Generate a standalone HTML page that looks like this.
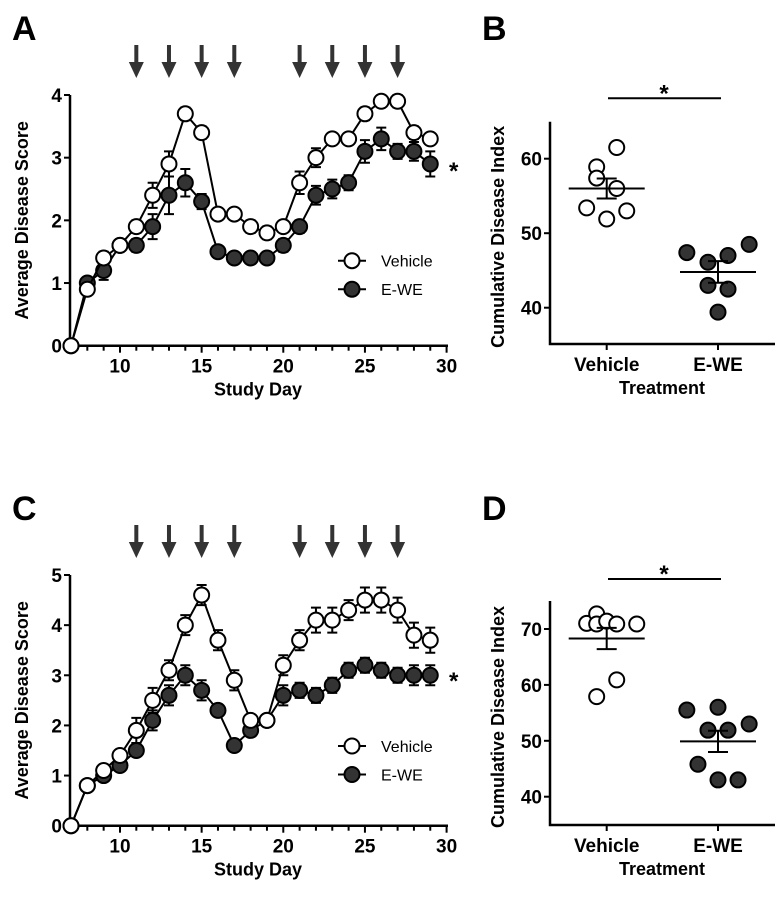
<!DOCTYPE html>
<html><head><meta charset="utf-8"><style>
body{margin:0;background:#fff}
svg text{font-family:"Liberation Sans",Arial,sans-serif;font-weight:bold;fill:#000}
</style></head><body>
<svg id="fig" width="780" height="900" viewBox="0 0 780 900" xmlns="http://www.w3.org/2000/svg"></svg>
<script>
const days=[7,8,9,10,11,12,13,14,15,16,17,18,19,20,21,22,23,24,25,26,27,28,29];
const aVehicle=[0,0.9,1.4,1.6,1.9,2.4,2.9,3.7,3.4,2.1,2.1,1.9,1.8,1.9,2.6,3.0,3.3,3.3,3.7,3.9,3.9,3.4,3.3];
const aVehicleErr=[0,0.05,0.1,0.08,0.1,0.2,0.2,0.1,0.1,0.08,0.08,0.1,0.1,0.08,0.18,0.15,0.08,0.08,0.1,0.08,0.1,0.1,0.08];
const aEWE=[0,1.0,1.2,1.6,1.6,1.9,2.4,2.6,2.3,1.5,1.4,1.4,1.4,1.6,1.9,2.4,2.5,2.6,3.1,3.3,3.1,3.1,2.9];
const aEWEErr=[0,0.08,0.15,0.08,0.1,0.2,0.3,0.22,0.12,0.08,0.08,0.08,0.08,0.1,0.1,0.15,0.15,0.12,0.18,0.18,0.12,0.15,0.2];
const cVehicle=[0,0.8,1.1,1.4,1.9,2.5,3.1,4.0,4.6,3.7,2.9,2.1,2.1,3.2,3.7,4.1,4.1,4.3,4.5,4.5,4.3,3.8,3.7];
const cVehicleErr=[0,0.05,0.1,0.1,0.25,0.25,0.2,0.2,0.2,0.2,0.2,0.1,0.1,0.2,0.2,0.25,0.25,0.2,0.25,0.25,0.25,0.25,0.25];
const cEWE=[0,0.8,1.0,1.2,1.5,2.1,2.6,3.0,2.7,2.3,1.6,1.9,2.1,2.6,2.7,2.6,2.8,3.1,3.2,3.1,3.0,3.0,3.0];
const cEWEErr=[0,0.05,0.1,0.1,0.1,0.2,0.2,0.2,0.2,0.1,0.1,0.1,0.1,0.2,0.15,0.15,0.15,0.15,0.15,0.15,0.15,0.2,0.2];
const arrowDays=[11,13,15,17,21,23,25,27];
const xTicks=[10,15,20,25,30];
const groups=["Vehicle","E-WE"];
const bVehicle=[61.5,58.9,57.4,56.0,53.4,53.0,51.9];
const bEWE=[47.4,46.1,47.0,48.5,43.0,42.5,39.4];
const bMean=[56.0,44.8];const bSem=[1.35,1.45];
const dVehicle=[71.0,72.7,70.9,71.4,70.9,70.9,57.9,60.9];
const dEWE=[55.5,56.0,51.9,51.9,53.0,45.8,43.0,43.0];
const dMean=[68.3,49.9];const dSem=[1.9,1.9];
const bJitter=[[0.09,-0.09,-0.09,0.09,-0.18,0.18,0],[-0.28,-0.09,0.09,0.28,-0.09,0.09,0]];
const dJitter=[[-0.18,-0.09,-0.09,0,0.09,0.27,-0.09,0.09],[-0.28,0,-0.09,0.09,0.28,-0.18,0,0.18]];

const svg=document.getElementById('fig');const NS='http://www.w3.org/2000/svg';
function mk(tag,attrs,parent,text){const e=document.createElementNS(NS,tag);for(const k in attrs)e.setAttribute(k,attrs[k]);if(text!==undefined)e.textContent=text;(parent||svg).appendChild(e);return e;}

function linePanel(id,letter,top,yMax,y0,yTop,vals1,err1,vals2,err2,legY,starY){
  const g=mk('g',{});
  
  
  const xs=d=>71+(d-7)*16.33;
  const ys=v=>y0-(y0-yTop)*v/yMax;
  const lab=mk('text',{x:12,y:top+40,'font-size':34},g,letter);
  
  arrowDays.forEach(d=>{const x=xs(d);const a=mk('path',{d:`M${x-2},${top+45}h4v17h5.5l-7.5,16l-7.5,-16h5.5z`,fill:'#333'},g);
    });
  const ax=mk('path',{d:`M70,${yTop}V${y0}H448`,stroke:'#000','stroke-width':2.5,fill:'none'},g);
  
  for(let v=0;v<=yMax;v++){mk('line',{x1:64,x2:70,y1:ys(v),y2:ys(v),stroke:'#000','stroke-width':2},g);
    const t=mk('text',{x:62,y:ys(v)+7,'font-size':19,'text-anchor':'end'},g,v);}
  for(let d=8;d<=30;d++){const maj=xTicks.includes(d);mk('line',{x1:xs(d),x2:xs(d),y1:y0,y2:y0+(maj?7:5),stroke:'#000','stroke-width':2},g);}
  xTicks.forEach(d=>{const t=mk('text',{x:xs(d),y:y0+27,'font-size':19,'text-anchor':'middle'},g,d);});
  const xt=mk('text',{x:258,y:y0+29+21,'font-size':18,'text-anchor':'middle'},g,'Study Day');
  const yt=mk('text',{x:0,y:0,'font-size':18,'text-anchor':'middle',transform:`translate(28,${(y0+yTop)/2}) rotate(-90)`},g,'Average Disease Score');
  [[vals2,err2,'#333','e-we'],[vals1,err1,'#fff','vehicle']].forEach(([vals,errs,fill,nm])=>{
    const s=mk('g',{},g);
    mk('polyline',{points:days.map((d,i)=>xs(d)+','+ys(vals[i])).join(' '),fill:'none',stroke:'#000','stroke-width':2},s);
    days.forEach((d,i)=>{const x=xs(d);if(errs[i]>0){const hi=ys(vals[i]+errs[i]),lo=ys(vals[i]-errs[i]);
      mk('path',{d:`M${x},${lo}V${hi}M${x-5},${hi}h10M${x-5},${lo}h10`,stroke:'#000','stroke-width':2},s);}
      const c=mk('circle',{cx:x,cy:ys(vals[i]),r:7.5,fill:fill,stroke:'#000','stroke-width':2},s);
      });
  });
  [['Vehicle','#fff',legY],['E-WE','#333',legY+28.5]].forEach(([t,f,y])=>{
    const l=mk('g',{},g);
    mk('line',{x1:338,x2:366,y1:y,y2:y,stroke:'#000','stroke-width':2},l);
    mk('circle',{cx:352,cy:y,r:7.5,fill:f,stroke:'#000','stroke-width':2},l);
    const tx=mk('text',{x:381,y:y+6,'font-size':16},l,t);tx.style.fontWeight='normal';});
  const st=mk('text',{x:449,y:starY+12,'font-size':24},g,'*');
}
linePanel('a','A',0,4,345.7,95,aVehicle,aVehicleErr,aEWE,aEWEErr,260.7,167);
linePanel('c','C',480,5,825.7,575,cVehicle,cVehicleErr,cEWE,cEWEErr,746,677);

function dotPanel(letter,top,vMin,vMax,ticks,yAt,perTen,y0,yTop,sets,jit,means,sems,sigY){
  const g=mk('g',{});
  
  
  const ys=v=>yAt-(v-ticks[0])*perTen/10;
  const xs=[606.7,718];
  const lab=mk('text',{x:482,y:top+40,'font-size':34},g,letter);
  const ax=mk('path',{d:`M550,${yTop}V${y0}H775`,stroke:'#000','stroke-width':2.5,fill:'none'},g);
  ticks.forEach(v=>{mk('line',{x1:544,x2:550,y1:ys(v),y2:ys(v),stroke:'#000','stroke-width':2},g);
    const t=mk('text',{x:542,y:ys(v)+7,'font-size':19,'text-anchor':'end'},g,v);});
  groups.forEach((n,i)=>{mk('line',{x1:xs[i],x2:xs[i],y1:y0,y2:y0+6,stroke:'#000','stroke-width':2},g);
    const t=mk('text',{x:xs[i],y:y0+27,'font-size':19,'text-anchor':'middle'},g,n);});
  const xt=mk('text',{x:662,y:y0+50,'font-size':18,'text-anchor':'middle'},g,'Treatment');
  const yt=mk('text',{x:0,y:0,'font-size':18,'text-anchor':'middle',transform:`translate(504,${(y0+yTop)/2+4}) rotate(-90)`},g,'Cumulative Disease Index');
  sets.forEach((vals,i)=>{const fill=i?'#333':'#fff';
    vals.forEach((v,j)=>{const c=mk('circle',{cx:xs[i]+jit[i][j]*111.3,cy:ys(v),r:7.5,fill:fill,stroke:'#000','stroke-width':2},g);
      });
    const m=ys(means[i]),hi=ys(means[i]+sems[i]),lo=ys(means[i]-sems[i]);
    const mb=mk('path',{d:`M${xs[i]-38},${m}h76M${xs[i]},${hi}V${lo}M${xs[i]-10},${hi}h20M${xs[i]-10},${lo}h20`,stroke:'#000','stroke-width':2},g);
    });
  const sl=mk('line',{x1:608,x2:721,y1:sigY,y2:sigY,stroke:'#000','stroke-width':2},g);
  const st=mk('text',{x:664,y:sigY+3,'font-size':24,'text-anchor':'middle'},g,'*');
}
dotPanel('B',0,35,65,[40,50,60],307.7,74.5,344,121.7,[bVehicle,bEWE],bJitter,bMean,bSem,98.3);
dotPanel('D',480,35,75,[40,50,60,70],796.7,55.9,825,601,[dVehicle,dEWE],dJitter,dMean,dSem,579);
</script>
</body></html>
